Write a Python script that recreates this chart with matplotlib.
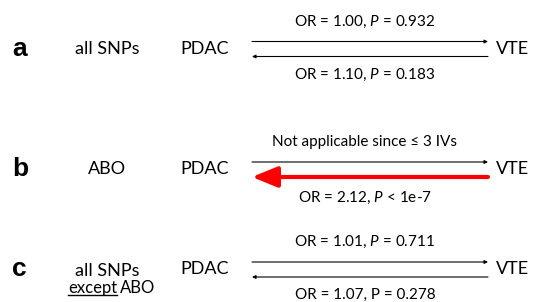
import numpy as np
import matplotlib
matplotlib.use('Agg')
import matplotlib.pyplot as plt

plt.rcParams['font.family'] = ['Lato', 'DejaVu Sans']
plt.rcParams['mathtext.fontset'] = 'custom'
plt.rcParams['mathtext.rm'] = 'Lato'
plt.rcParams['mathtext.it'] = 'Lato:italic'

# 数据
panels = ['a', 'b', 'c']
instruments = ['all SNPs', 'ABO', 'all SNPs']
exposure = 'PDAC'
outcome = 'VTE'
forward_text = ['OR = 1.00, $P$ = 0.932', 'Not applicable since \u2264 3 IVs', 'OR = 1.01, $P$ = 0.711']
reverse_text = ['OR = 1.10, $P$ = 0.183', 'OR = 2.12, $P$ < 1e-7', 'OR = 1.07, P = 0.278']
reverse_sig = [False, True, False]

row_y = [48.5, 169, 269]  # 行中心 (像素)

fig = plt.figure(figsize=(5.34, 3.02), dpi=100)
ax = fig.add_axes([0, 0, 1, 1])
ax.set_xlim(0, 534)
ax.set_ylim(302, 0)
ax.axis('off')

fs = 13
x_left, x_right = 252, 488
x_mid = (x_left + x_right) / 2

for i, p in enumerate(panels):
    y = row_y[i]
    ax.text(12, y, p, fontsize=19, fontweight='bold', family=['Liberation Sans'],
            ha='left', va='center')
    ax.text(107, y + (2 if i == 2 else 0), instruments[i], fontsize=fs, ha='center', va='center')
    ax.text(205, y, exposure, fontsize=fs, ha='center', va='center')
    ax.text(496, y, outcome, fontsize=fs, ha='left', va='center')
    # 正向箭头
    ax.annotate('', xy=(x_right, y - 7), xytext=(x_left, y - 7),
                arrowprops=dict(arrowstyle='-|>', color='black', lw=0.8,
                                mutation_scale=5, shrinkA=0, shrinkB=0))
    # 反向箭头
    if reverse_sig[i]:
        ax.annotate('', xy=(x_left, y + 8), xytext=(x_right, y + 8),
                    arrowprops=dict(arrowstyle='-|>,head_length=1.1,head_width=0.45',
                                    color='#ff0000', lw=3, mutation_scale=14,
                                    shrinkA=0, shrinkB=0))
    else:
        ax.annotate('', xy=(x_left, y + 8), xytext=(x_right, y + 8),
                    arrowprops=dict(arrowstyle='-|>', color='black', lw=0.8,
                                    mutation_scale=5, shrinkA=0, shrinkB=0))
    ax.text(x_mid - 5, y - 27, forward_text[i], fontsize=fs - 2, ha='center', va='center')
    ax.text(x_mid - 5, y + (29 if reverse_sig[i] else 26), reverse_text[i],
            fontsize=fs - 2, ha='center', va='center')

# c 行: "except ABO"
y = row_y[2] + 19
t1 = ax.text(68, y, 'except', fontsize=fs - 1, ha='left', va='center')
fig.canvas.draw()
bb = t1.get_window_extent().transformed(ax.transData.inverted())
ax.text(bb.x1 + 3, y, 'ABO', fontsize=fs - 1, ha='left', va='center')
ax.plot([bb.x0, bb.x1], [y + 7, y + 7], color='black', lw=1)

fig.savefig('out.png', dpi=100)
